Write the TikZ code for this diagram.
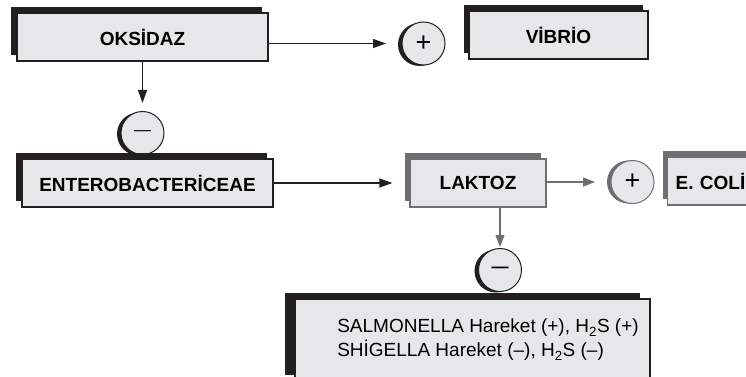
\documentclass[tikz,border=0pt]{standalone}
\usepackage{fontspec}
\setmainfont{Liberation Sans}
\usepackage{xcolor}
\usepackage{tikz}
\usetikzlibrary{calc}
\usetikzlibrary{positioning}
\usetikzlibrary{arrows.meta}
\usetikzlibrary{shadows}

\definecolor{ink}{HTML}{231F20}
\definecolor{dim}{HTML}{6D6E71}
\definecolor{pale}{HTML}{E6E7E8}

\begin{document}
\begin{tikzpicture}[
    x = 1pt,
    y = -1pt,
    font = \fontsize{19}{24}\selectfont,
    boxf/.style = {
      rectangle,
      draw=ink,
      fill=pale,
      line width=1.2pt,
      minimum height=48pt,
      inner sep=0pt,
      font=\fontsize{19}{24}\selectfont\bfseries,
      general shadow={fill=ink, shadow xshift=-#1, shadow yshift=6pt}
    },
    boxf/.default = 6pt,
    boxg/.style = {
      rectangle,
      draw=dim,
      fill=pale,
      line width=1.2pt,
      minimum height=48pt,
      inner sep=0pt,
      font=\fontsize{19}{24}\selectfont\bfseries,
      general shadow={fill=dim, shadow xshift=-5pt, shadow yshift=6pt}
    },
    signf/.style = {
      circle,
      draw=ink,
      fill=pale,
      line width=1pt,
      minimum size=43pt,
      inner sep=0pt,
      font=\fontsize{27}{28}\selectfont,
      general shadow={fill=ink, shadow xshift=-4pt, shadow yshift=-1pt}
    },
    signg/.style = {
      circle,
      draw=dim,
      fill=pale,
      line width=1pt,
      minimum size=43pt,
      inner sep=0pt,
      font=\fontsize{27}{28}\selectfont,
      general shadow={fill=dim, shadow xshift=-4pt}
    },
    arra/.style = {
      -{Triangle[length=13pt,width=9pt]},
      line width=1.2pt,
      draw=ink
    },
    arrg/.style = {
      -{Triangle[length=12pt,width=9pt]},
      line width=1.2pt,
      draw=dim
    }
  ]
    \useasboundingbox (0,0) rectangle (746,377);
    \clip (0,0) rectangle (746,377);

    \node[boxf, minimum width=251pt] (oksidaz) at (142.5,37) {OKSİDAZ};
    \node[signf] (plus1) at (423.5,43.5) {+};
    \node[boxf=5pt, minimum width=179pt] (vibrio) at (558.5,35) {VİBRİO};
    \node[signf] (minus1) at (142.5,133) {\fontsize{17}{20}\selectfont —};

    \node[boxf, minimum width=251pt] (entero) at (147.5,183) {ENTEROBACTERİCEAE};
    \node[boxg, minimum width=136pt] (laktoz) at (478,183) {LAKTOZ};
    \node[signg] (plus2) at (632.5,182) {+};
    \node[boxg, anchor=west, text width=94pt, inner xsep=8pt, align=left] (ecoli) at (667,181) {E. COLİ};

    \node[signf] (minus2) at (500,270) {\fontsize{17}{20}\selectfont\bfseries —};
    \node[boxf=10pt, minimum width=355pt, minimum height=82pt,
          font=\fontsize{19}{24}\selectfont] (rest) at (472.5,340)
      {\begin{tabular}{@{\hspace{42pt}}l@{\hspace{11pt}}}
        SALMONELLA Hareket (+), H\textsubscript{2}S (+)\\
        SHİGELLA Hareket (–), H\textsubscript{2}S (–)
      \end{tabular}};

    \draw[arra, shorten >=15.5pt] (oksidaz.east |- plus1) -- (plus1.west);
    \draw[arra, shorten >=8pt] (oksidaz) -- (minus1);
    \draw[arra, shorten >=17pt] (entero) -- (laktoz);
    \draw[arrg, shorten >=15.5pt] (laktoz.east |- plus2) -- (plus2.west);
    \draw[arrg, shorten >=1pt] (laktoz.south -| minus2) -- (minus2.north);

  \end{tikzpicture}
\end{document}
